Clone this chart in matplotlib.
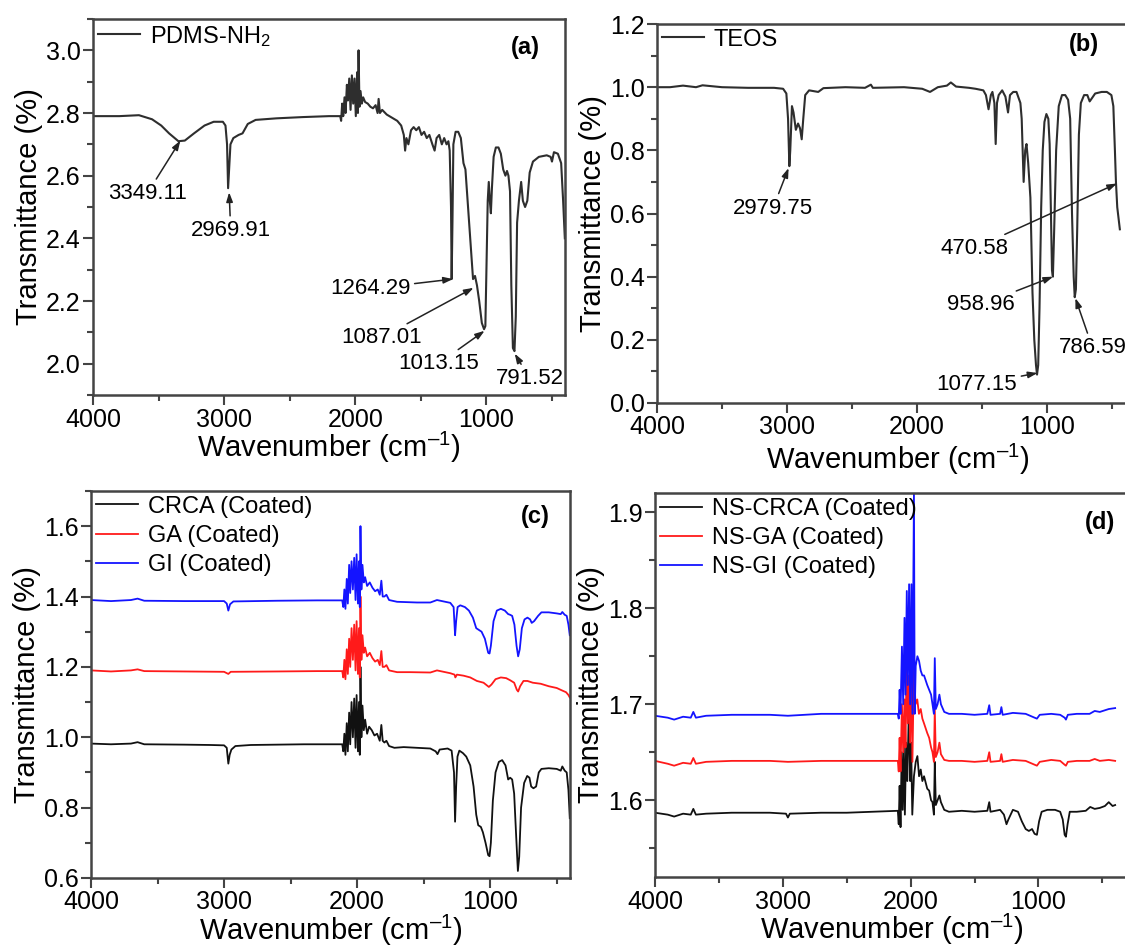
import matplotlib
matplotlib.use("Agg")
import matplotlib.pyplot as plt
from matplotlib.ticker import MultipleLocator, FormatStrFormatter
import numpy as np

plt.rcParams['font.family'] = ['Liberation Sans', 'DejaVu Sans']
plt.rcParams['mathtext.fontset'] = 'custom'
plt.rcParams['mathtext.rm'] = 'Liberation Sans'
plt.rcParams['mathtext.default'] = 'regular'

# ---------------- data (wavenumber, transmittance) ----------------
# (a) PDMS-NH2
pdms = [(4000, 2.79), (3800, 2.79), (3650, 2.793), (3550, 2.78), (3480, 2.76), (3420, 2.735),
        (3349, 2.71), (3300, 2.712), (3230, 2.735), (3150, 2.76), (3080, 2.772), (3010, 2.772),
        (2990, 2.76), (2978, 2.70), (2970, 2.56), (2962, 2.62), (2952, 2.70), (2930, 2.72),
        (2890, 2.73), (2860, 2.735), (2820, 2.765), (2760, 2.778), (2600, 2.783), (2400, 2.787),
        (2200, 2.79), (2115, 2.79), (2108, 2.775), (2100, 2.83), (2092, 2.79), (2082, 2.85),
        (2074, 2.80), (2064, 2.89), (2056, 2.84), (2046, 2.91), (2036, 2.81), (2026, 2.92),
        (2016, 2.83), (2006, 2.91), (1996, 2.79), (1986, 2.93), (1980, 2.80), (1975, 3.0),
        (1968, 2.82), (1960, 2.87), (1950, 2.83), (1940, 2.85), (1925, 2.835), (1905, 2.83),
        (1885, 2.82), (1865, 2.815), (1845, 2.825), (1830, 2.80), (1822, 2.845), (1812, 2.80),
        (1795, 2.81), (1760, 2.795), (1720, 2.785), (1680, 2.775), (1650, 2.76), (1630, 2.73),
        (1620, 2.68), (1610, 2.72), (1595, 2.70), (1575, 2.745), (1555, 2.755), (1535, 2.745),
        (1515, 2.755), (1495, 2.73), (1475, 2.74), (1455, 2.72), (1435, 2.73), (1412, 2.70),
        (1395, 2.68), (1380, 2.72), (1360, 2.73), (1340, 2.70), (1322, 2.72), (1304, 2.70),
        (1290, 2.71), (1280, 2.68), (1270, 2.50), (1265, 2.27), (1259, 2.45), (1252, 2.70),
        (1235, 2.74), (1215, 2.74), (1195, 2.72), (1175, 2.64), (1160, 2.62), (1140, 2.50),
        (1120, 2.38), (1102, 2.27), (1087, 2.28), (1072, 2.25), (1055, 2.20), (1035, 2.13),
        (1018, 2.11), (1008, 2.12), (1000, 2.30), (990, 2.52), (982, 2.58), (974, 2.52),
        (966, 2.48), (958, 2.56), (945, 2.66), (928, 2.69), (908, 2.69), (890, 2.67),
        (872, 2.62), (855, 2.60), (843, 2.615), (832, 2.60), (820, 2.55), (810, 2.25),
        (798, 2.05), (786, 2.04), (776, 2.15), (766, 2.45), (752, 2.52), (735, 2.58),
        (722, 2.52), (705, 2.50), (688, 2.52), (670, 2.61), (645, 2.645), (600, 2.66),
        (540, 2.665), (510, 2.66), (500, 2.645), (485, 2.675), (455, 2.67), (430, 2.64),
        (415, 2.52), (402, 2.40)]

# (b) TEOS
teos = [(4000, 1.0), (3900, 1.0), (3800, 1.005), (3700, 1.0), (3650, 1.006), (3500, 1.0),
        (3300, 0.998), (3100, 0.998), (3030, 0.995), (3005, 0.98), (2992, 0.90), (2982, 0.75),
        (2975, 0.80), (2962, 0.94), (2950, 0.92), (2932, 0.865), (2915, 0.885), (2900, 0.87),
        (2887, 0.835), (2875, 0.90), (2860, 0.975), (2830, 0.99), (2760, 0.985), (2720, 0.997),
        (2550, 1.0), (2400, 0.998), (2355, 1.008), (2340, 0.998), (2100, 1.0), (1960, 0.995),
        (1900, 0.985), (1840, 1.0), (1770, 1.005), (1740, 1.015), (1700, 1.002), (1600, 0.998),
        (1550, 0.995), (1490, 0.99), (1470, 0.975), (1450, 0.93), (1432, 0.975), (1420, 0.985),
        (1405, 0.95), (1395, 0.82), (1385, 0.95), (1372, 0.975), (1345, 0.99), (1320, 0.97),
        (1300, 0.92), (1285, 0.975), (1260, 0.985), (1235, 0.985), (1205, 0.95), (1195, 0.90),
        (1180, 0.70), (1168, 0.80), (1158, 0.82), (1145, 0.76), (1128, 0.65), (1112, 0.35),
        (1098, 0.20), (1085, 0.12), (1077, 0.09), (1068, 0.12), (1058, 0.30), (1045, 0.62),
        (1033, 0.80), (1020, 0.89), (1005, 0.915), (990, 0.90), (980, 0.82), (970, 0.60),
        (962, 0.42), (955, 0.40), (945, 0.55), (930, 0.80), (910, 0.94), (885, 0.975),
        (860, 0.975), (838, 0.96), (822, 0.90), (808, 0.60), (795, 0.40), (787, 0.335),
        (778, 0.36), (768, 0.55), (755, 0.85), (740, 0.95), (715, 0.975), (690, 0.975),
        (672, 0.955), (655, 0.965), (630, 0.98), (580, 0.985), (540, 0.985), (505, 0.975),
        (490, 0.94), (478, 0.80), (470, 0.70), (460, 0.62), (440, 0.55)]

# (c) coated substrates
crca_c = [(4000, 0.982), (3850, 0.98), (3700, 0.982), (3650, 0.986), (3600, 0.98), (3300, 0.979),
          (3100, 0.978), (3000, 0.977), (2980, 0.97), (2968, 0.925), (2958, 0.95), (2945, 0.965),
          (2915, 0.975), (2800, 0.978), (2600, 0.979), (2400, 0.98), (2200, 0.98), (2112, 0.98),
          (2104, 0.96), (2096, 1.01), (2088, 0.95), (2078, 1.04), (2070, 0.96), (2060, 1.07),
          (2052, 0.98), (2042, 1.10), (2032, 1.0), (2022, 1.11), (2012, 0.97), (2004, 1.12),
          (1994, 0.96), (1986, 1.10), (1980, 0.95), (1975, 1.20), (1968, 1.0), (1960, 1.09),
          (1950, 1.02), (1940, 1.05), (1925, 1.01), (1910, 1.03), (1890, 1.02), (1870, 1.005),
          (1850, 1.01), (1830, 0.99), (1818, 1.035), (1808, 0.99), (1795, 0.985), (1780, 0.99),
          (1760, 0.975), (1720, 0.97), (1650, 0.972), (1550, 0.97), (1450, 0.968), (1410, 0.96),
          (1396, 0.952), (1380, 0.965), (1320, 0.968), (1290, 0.962), (1272, 0.90), (1264, 0.76),
          (1256, 0.86), (1246, 0.945), (1232, 0.962), (1205, 0.955), (1180, 0.945), (1150, 0.92),
          (1125, 0.86), (1105, 0.78), (1090, 0.75), (1070, 0.745), (1055, 0.73), (1035, 0.70),
          (1015, 0.665), (1005, 0.662), (995, 0.70), (980, 0.82), (960, 0.90), (935, 0.93),
          (910, 0.935), (885, 0.92), (865, 0.88), (850, 0.885), (835, 0.88), (820, 0.84),
          (805, 0.72), (792, 0.62), (782, 0.66), (768, 0.80), (745, 0.87), (722, 0.89),
          (705, 0.885), (692, 0.86), (675, 0.855), (655, 0.86), (635, 0.90), (615, 0.91),
          (560, 0.912), (500, 0.91), (470, 0.905), (458, 0.917), (440, 0.905), (425, 0.90),
          (412, 0.85), (402, 0.77)]
ga_c = [(4000, 1.19), (3850, 1.187), (3700, 1.19), (3650, 1.193), (3600, 1.188), (3300, 1.187),
        (3000, 1.186), (2968, 1.18), (2950, 1.186), (2600, 1.187), (2300, 1.188), (2112, 1.188),
        (2104, 1.17), (2096, 1.22), (2088, 1.165), (2078, 1.25), (2070, 1.18), (2060, 1.28),
        (2052, 1.20), (2042, 1.31), (2032, 1.22), (2022, 1.32), (2012, 1.19), (2004, 1.33),
        (1994, 1.18), (1986, 1.31), (1980, 1.17), (1975, 1.40), (1968, 1.22), (1960, 1.29),
        (1950, 1.24), (1940, 1.255), (1925, 1.23), (1905, 1.24), (1885, 1.225), (1865, 1.215),
        (1845, 1.22), (1830, 1.205), (1818, 1.245), (1808, 1.20), (1795, 1.20), (1780, 1.205),
        (1760, 1.19), (1700, 1.185), (1600, 1.185), (1450, 1.184), (1400, 1.19), (1300, 1.182),
        (1268, 1.178), (1262, 1.17), (1250, 1.178), (1200, 1.175), (1150, 1.17), (1100, 1.16),
        (1050, 1.155), (1010, 1.143), (990, 1.15), (960, 1.165), (920, 1.17), (880, 1.168),
        (850, 1.162), (820, 1.155), (800, 1.135), (790, 1.13), (775, 1.145), (750, 1.16),
        (720, 1.16), (680, 1.155), (620, 1.152), (560, 1.145), (500, 1.14), (460, 1.133),
        (430, 1.128), (412, 1.12), (402, 1.113)]
gi_c = [(4000, 1.39), (3850, 1.387), (3700, 1.39), (3650, 1.394), (3600, 1.388), (3300, 1.387),
        (3000, 1.387), (2980, 1.38), (2968, 1.36), (2955, 1.378), (2930, 1.386), (2600, 1.388),
        (2300, 1.389), (2112, 1.389), (2104, 1.37), (2096, 1.42), (2088, 1.365), (2078, 1.45),
        (2070, 1.38), (2060, 1.49), (2052, 1.41), (2042, 1.50), (2032, 1.42), (2022, 1.51),
        (2012, 1.39), (2004, 1.52), (1994, 1.38), (1986, 1.50), (1980, 1.37), (1975, 1.60),
        (1968, 1.42), (1960, 1.49), (1950, 1.44), (1940, 1.455), (1925, 1.43), (1905, 1.44),
        (1885, 1.425), (1865, 1.415), (1845, 1.42), (1830, 1.405), (1818, 1.445), (1808, 1.40),
        (1795, 1.40), (1780, 1.405), (1760, 1.39), (1700, 1.385), (1550, 1.383), (1450, 1.383),
        (1400, 1.39), (1300, 1.382), (1275, 1.37), (1264, 1.29), (1256, 1.33), (1245, 1.37),
        (1225, 1.375), (1190, 1.37), (1160, 1.36), (1130, 1.34), (1105, 1.31), (1085, 1.305),
        (1065, 1.30), (1040, 1.28), (1015, 1.24), (1005, 1.238), (995, 1.26), (975, 1.33),
        (950, 1.36), (920, 1.365), (890, 1.36), (865, 1.35), (850, 1.348), (835, 1.345),
        (818, 1.32), (802, 1.26), (790, 1.23), (778, 1.25), (762, 1.31), (742, 1.335),
        (720, 1.34), (700, 1.335), (688, 1.325), (670, 1.33), (640, 1.345), (615, 1.355),
        (560, 1.355), (500, 1.352), (470, 1.35), (458, 1.356), (440, 1.348), (425, 1.345),
        (412, 1.32), (402, 1.29)]

# (d) nano-silica coated substrates
crca_d = [(4000, 1.587), (3900, 1.585), (3850, 1.583), (3780, 1.586), (3720, 1.585), (3700, 1.591),
          (3680, 1.585), (3600, 1.586), (3400, 1.587), (3100, 1.587), (2975, 1.586), (2960, 1.582),
          (2945, 1.586), (2700, 1.587), (2500, 1.587), (2300, 1.588), (2100, 1.589), (2093, 1.575),
          (2086, 1.615), (2079, 1.572), (2070, 1.65), (2062, 1.59), (2053, 1.655), (2045, 1.585),
          (2035, 1.66), (2026, 1.62), (2013, 1.70), (2004, 1.62), (1996, 1.66), (1987, 1.585),
          (1974, 1.625), (1960, 1.64), (1947, 1.646), (1934, 1.625), (1921, 1.632), (1908, 1.62),
          (1895, 1.625), (1870, 1.612), (1855, 1.61), (1840, 1.60), (1829, 1.598), (1818, 1.585),
          (1811, 1.64), (1803, 1.595), (1789, 1.60), (1775, 1.605), (1763, 1.598), (1737, 1.59),
          (1700, 1.588), (1600, 1.589), (1500, 1.588), (1400, 1.589), (1385, 1.598), (1375, 1.588),
          (1300, 1.59), (1270, 1.585), (1250, 1.575), (1235, 1.58), (1200, 1.59), (1160, 1.588),
          (1130, 1.578), (1100, 1.57), (1075, 1.568), (1050, 1.57), (1030, 1.565), (1012, 1.564),
          (995, 1.578), (975, 1.588), (930, 1.59), (870, 1.59), (830, 1.588), (810, 1.58),
          (795, 1.564), (785, 1.562), (772, 1.575), (755, 1.588), (700, 1.588), (630, 1.589),
          (595, 1.593), (560, 1.591), (520, 1.592), (480, 1.594), (450, 1.598), (420, 1.594),
          (400, 1.595)]
ga_d = [(4000, 1.641), (3900, 1.638), (3850, 1.636), (3780, 1.639), (3720, 1.638), (3700, 1.644),
        (3680, 1.638), (3600, 1.64), (3400, 1.641), (3100, 1.641), (2960, 1.64), (2700, 1.641),
        (2400, 1.641), (2100, 1.641), (2093, 1.63), (2086, 1.665), (2079, 1.63), (2068, 1.70),
        (2058, 1.65), (2048, 1.705), (2040, 1.655), (2030, 1.765), (2022, 1.68), (2012, 1.73),
        (2004, 1.66), (1994, 1.745), (1986, 1.64), (1974, 1.74), (1962, 1.70), (1948, 1.705),
        (1935, 1.69), (1921, 1.695), (1908, 1.685), (1895, 1.68), (1870, 1.67), (1855, 1.665),
        (1840, 1.655), (1829, 1.65), (1818, 1.64), (1811, 1.695), (1803, 1.645), (1789, 1.65),
        (1775, 1.66), (1763, 1.648), (1737, 1.642), (1700, 1.641), (1600, 1.641), (1500, 1.64),
        (1400, 1.641), (1385, 1.65), (1375, 1.64), (1300, 1.641), (1290, 1.648), (1280, 1.64),
        (1200, 1.642), (1100, 1.641), (1030, 1.637), (1012, 1.636), (990, 1.64), (900, 1.642),
        (830, 1.641), (795, 1.637), (785, 1.636), (770, 1.64), (700, 1.641), (600, 1.641),
        (560, 1.643), (520, 1.641), (450, 1.642), (400, 1.641)]
gi_d = [(4000, 1.688), (3900, 1.686), (3850, 1.684), (3780, 1.687), (3720, 1.686), (3700, 1.692),
        (3680, 1.686), (3600, 1.688), (3400, 1.689), (3100, 1.689), (2960, 1.688), (2700, 1.69),
        (2400, 1.69), (2100, 1.69), (2093, 1.685), (2086, 1.715), (2079, 1.69), (2068, 1.76),
        (2058, 1.70), (2048, 1.79), (2040, 1.71), (2030, 1.818), (2022, 1.72), (2012, 1.825),
        (2004, 1.70), (1994, 1.825), (1986, 1.69), (1974, 1.92), (1968, 1.69), (1960, 1.74),
        (1947, 1.75), (1934, 1.745), (1921, 1.735), (1908, 1.73), (1895, 1.73), (1870, 1.72),
        (1855, 1.715), (1840, 1.71), (1829, 1.70), (1818, 1.69), (1811, 1.748), (1803, 1.695),
        (1789, 1.70), (1775, 1.71), (1763, 1.70), (1737, 1.692), (1700, 1.69), (1600, 1.69),
        (1500, 1.689), (1400, 1.69), (1385, 1.699), (1375, 1.689), (1300, 1.69), (1290, 1.697),
        (1280, 1.689), (1200, 1.691), (1100, 1.69), (1030, 1.686), (1012, 1.685), (990, 1.689),
        (900, 1.69), (830, 1.689), (795, 1.686), (785, 1.684), (770, 1.689), (700, 1.69),
        (600, 1.69), (560, 1.693), (520, 1.692), (450, 1.695), (400, 1.696)]

# peak labels: (text, peak xy, text xy)
peaks_a = [("3349.11", (3334, 2.712), (3587, 2.543)),
           ("2969.91", (2962, 2.547), (2950, 2.425)),
           ("1264.29", (1255, 2.27), (1886, 2.239)),
           ("1087.01", (1098, 2.242), (1802, 2.083)),
           ("1013.15", (1014, 2.105), (1366, 2.0)),
           ("791.52", (784, 2.032), (669, 1.952))]
peaks_b = [("2979.75", (2988, 0.744), (3108, 0.617)),
           ("470.58", (462, 0.695), (1560, 0.49)),
           ("958.96", (953, 0.40), (1510, 0.311)),
           ("786.59", (782, 0.332), (650, 0.175)),
           ("1077.15", (1073, 0.095), (1540, 0.058))]

GRAY = '#2e2e2e'
SPINE = '#444444'
RED = '#ff1a1a'
BLUE = '#1414ff'


def style_axes(ax, xmax, ymin, ymax, ymaj, ymin_step, xpad=2):
    ax.set_xlim(4000, xmax)
    ax.set_ylim(ymin, ymax)
    ax.xaxis.set_major_locator(MultipleLocator(1000))
    ax.xaxis.set_minor_locator(MultipleLocator(500))
    ax.yaxis.set_major_locator(MultipleLocator(ymaj))
    ax.yaxis.set_minor_locator(MultipleLocator(ymin_step))
    ax.yaxis.set_major_formatter(FormatStrFormatter('%.1f'))
    ax.tick_params(which='both', direction='out', color=SPINE, width=1.5,
                   top=False, right=False, labelsize=18, pad=2)
    ax.tick_params(which='major', length=7)
    ax.tick_params(which='minor', length=4)
    for s in ax.spines.values():
        s.set_color(SPINE)
        s.set_linewidth(1.8)
    ax.set_xlabel('Wavenumber (cm$^{\u2013 1}$)', fontsize=21, labelpad=xpad)
    ax.set_ylabel('Transmittance (%)', fontsize=21, labelpad=2)


def plot_series(ax, pts, color, label, lw=1.3):
    arr = np.array(pts)
    ax.plot(arr[:, 0], arr[:, 1], color=color, lw=lw, label=label)


def add_peaks(ax, peaks):
    for txt, xy, xyt in peaks:
        ax.annotate(txt, xy=xy, xytext=xyt, fontsize=16, ha='center', va='center',
                    annotation_clip=False,
                    arrowprops=dict(arrowstyle='-|>,head_length=0.35,head_width=0.12',
                                    color='#222222', lw=1.1, shrinkA=1, shrinkB=0))


fig = plt.figure(figsize=(11.25, 9.5), dpi=100)

ax_a = fig.add_axes([0.0827, 0.5842, 0.4196, 0.3958])
ax_b = fig.add_axes([0.584, 0.5758, 0.4276, 0.3989])
ax_c = fig.add_axes([0.0809, 0.0758, 0.4258, 0.4074])
ax_d = fig.add_axes([0.5822, 0.0768, 0.4204, 0.4042])

# (a)
plot_series(ax_a, pdms, GRAY, 'PDMS-NH$_2$', lw=1.5)
style_axes(ax_a, 400, 1.9, 3.1, 0.2, 0.1, xpad=-1)
add_peaks(ax_a, peaks_a)
ax_a.text(0.947, 0.925, '(a)', transform=ax_a.transAxes, ha='right', va='center',
          fontsize=17, fontweight='bold')

# (b)
plot_series(ax_b, teos, GRAY, 'TEOS', lw=1.5)
style_axes(ax_b, 300, 0.0, 1.2, 0.2, 0.1)
add_peaks(ax_b, peaks_b)
ax_b.text(0.918, 0.945, '(b)', transform=ax_b.transAxes, ha='right', va='center',
          fontsize=17, fontweight='bold')

# (c)
plot_series(ax_c, crca_c, '#111111', 'CRCA (Coated)')
plot_series(ax_c, ga_c, RED, 'GA (Coated)')
plot_series(ax_c, gi_c, BLUE, 'GI (Coated)')
style_axes(ax_c, 400, 0.6, 1.7, 0.2, 0.1, xpad=-1)
ax_c.text(0.958, 0.933, '(c)', transform=ax_c.transAxes, ha='right', va='center',
          fontsize=17, fontweight='bold')

# (d)
plot_series(ax_d, crca_d, '#111111', 'NS-CRCA (Coated)')
plot_series(ax_d, ga_d, RED, 'NS-GA (Coated)')
plot_series(ax_d, gi_d, BLUE, 'NS-GI (Coated)')
style_axes(ax_d, 300, 1.52, 1.92, 0.1, 0.05, xpad=-1)
ax_d.text(0.972, 0.924, '(d)', transform=ax_d.transAxes, ha='right', va='center',
          fontsize=17, fontweight='bold')

for ax in (ax_a, ax_b, ax_c, ax_d):
    ax.legend(loc='upper left', frameon=False, fontsize=17, handlelength=1.8,
              handletextpad=0.4, labelspacing=0.3, borderaxespad=0.1, borderpad=0.1)

fig.savefig('out.png', dpi=100)
